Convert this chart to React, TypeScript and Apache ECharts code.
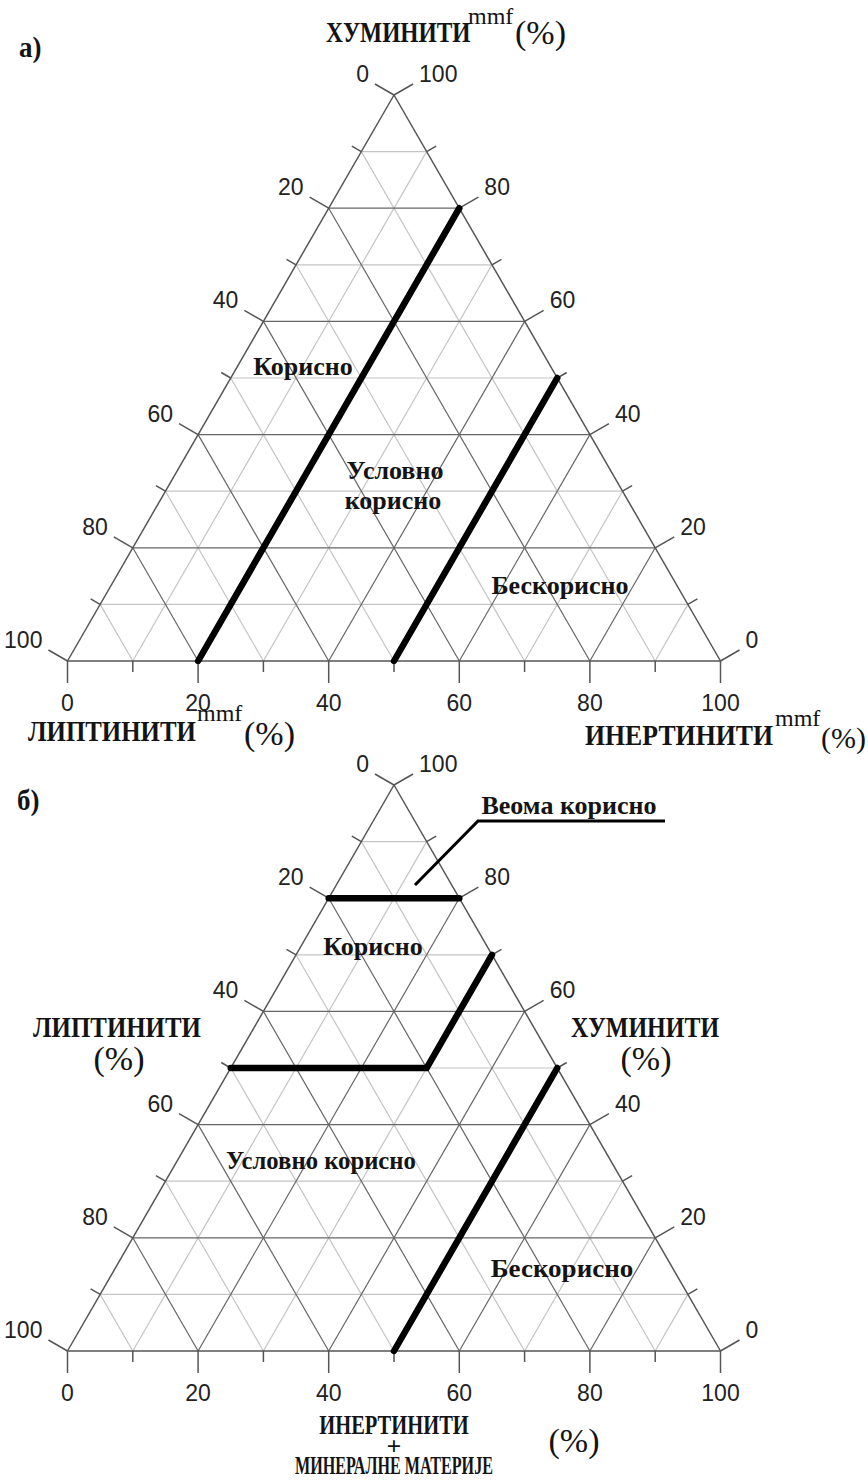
import React, { useEffect, useRef } from "react";
import * as echarts from "echarts";

// Ternary points are written as [left-axis %, right-axis %, bottom-axis %]
type TPoint = [number, number, number];

const TICK_VALUES = [0, 10, 20, 30, 40, 50, 60, 70, 80, 90, 100];
const MAJOR_LEVELS = [20, 40, 60, 80];
const MINOR_LEVELS = [10, 30, 50, 70, 90];

// Panel а) class boundaries
const A_USEFUL_LIMIT: TPoint[] = [[80, 0, 20], [0, 80, 20]];
const A_USELESS_LIMIT: TPoint[] = [[50, 0, 50], [0, 50, 50]];

// Panel б) class boundaries
const B_VERY_USEFUL_LIMIT: TPoint[] = [[20, 80, 0], [0, 80, 20]];
const B_USEFUL_LIMIT: TPoint[] = [[50, 50, 0], [20, 50, 30], [0, 70, 30]];
const B_USELESS_LIMIT: TPoint[] = [[50, 0, 50], [0, 50, 50]];

const TRIANGLE_EDGES: TPoint[][] = [
  [[100, 0, 0], [0, 100, 0]],
  [[0, 100, 0], [0, 0, 100]],
  [[0, 0, 100], [100, 0, 0]],
];

// cartesian position inside the triangle: x = bottom + right/2, y = right
const toXY = (p: TPoint): [number, number] => [p[2] + p[1] / 2, p[1]];

function gridSegments(levels: number[]) {
  const segs: number[][] = [];
  levels.forEach((v) => {
    const lines: TPoint[][] = [
      [[100 - v, v, 0], [0, v, 100 - v]],
      [[100 - v, 0, v], [0, 100 - v, v]],
      [[v, 100 - v, 0], [v, 0, 100 - v]],
    ];
    lines.forEach(([a, b]) => {
      const p = toXY(a);
      const q = toXY(b);
      segs.push([p[0], p[1], q[0], q[1]]);
    });
  });
  return segs;
}

function edgeSegments() {
  return TRIANGLE_EDGES.map(([a, b]) => {
    const p = toXY(a);
    const q = toXY(b);
    return [p[0], p[1], q[0], q[1]];
  });
}

// axis 0: left, 1: right, 2: bottom
function tickData() {
  const out: number[][] = [];
  TICK_VALUES.forEach((v) => {
    const l = toXY([v, 100 - v, 0]);
    const r = toXY([0, v, 100 - v]);
    const b = toXY([100 - v, 0, v]);
    out.push([l[0], l[1], 0, v]);
    out.push([r[0], r[1], 1, v]);
    out.push([b[0], b[1], 2, v]);
  });
  return out;
}

const EDGE_COLOR = "#555555";
const MAJOR_COLOR = "#666666";
const MINOR_COLOR = "#c4c4c4";
const TEXT_COLOR = "#141414";
const TICK_FONT = '23px "Liberation Sans", Arial, sans-serif';

function segmentSeries(gi: number, data: number[][], color: string, width: number, z: number) {
  return {
    type: "custom",
    coordinateSystem: "cartesian2d",
    xAxisIndex: gi,
    yAxisIndex: gi,
    silent: true,
    clip: false,
    z,
    data,
    renderItem: (_p: any, api: any) => {
      const a = api.coord([api.value(0), api.value(1)]);
      const b = api.coord([api.value(2), api.value(3)]);
      return {
        type: "line",
        shape: { x1: a[0], y1: a[1], x2: b[0], y2: b[1] },
        style: { stroke: color, lineWidth: width },
      };
    },
  };
}

function tickSeries(gi: number) {
  return {
    type: "custom",
    coordinateSystem: "cartesian2d",
    xAxisIndex: gi,
    yAxisIndex: gi,
    silent: true,
    clip: false,
    z: 5,
    data: tickData(),
    renderItem: (_p: any, api: any) => {
      const p = api.coord([api.value(0), api.value(1)]);
      const axis = api.value(2);
      const v = api.value(3);
      const dir = axis === 0 ? [-0.866, -0.5] : axis === 1 ? [0.866, -0.5] : [0, 1];
      const major = v % 20 === 0;
      const len = major ? 22 : 11;
      const e = [p[0] + dir[0] * len, p[1] + dir[1] * len];
      const children: any[] = [
        {
          type: "line",
          shape: { x1: p[0], y1: p[1], x2: e[0], y2: e[1] },
          style: { stroke: EDGE_COLOR, lineWidth: 1.5 },
        },
      ];
      if (major) {
        let tx = e[0];
        let ty = e[1] + 20;
        let align = "center";
        if (axis === 0) {
          tx = e[0] - 6;
          ty = e[1] - 10;
          align = "right";
        } else if (axis === 1) {
          tx = e[0] + 6;
          ty = e[1] - 10;
          align = "left";
        }
        children.push({
          type: "text",
          style: {
            text: String(v),
            x: tx,
            y: ty,
            textAlign: align,
            textVerticalAlign: "middle",
            fill: "#222222",
            font: TICK_FONT,
          },
        });
      }
      return { type: "group", children };
    },
  };
}

function boundarySeries(gi: number, pts: TPoint[]) {
  return {
    type: "line",
    xAxisIndex: gi,
    yAxisIndex: gi,
    silent: true,
    symbol: "none",
    z: 10,
    data: pts.map(toXY),
    lineStyle: { color: "#000000", width: 6.5, cap: "round", join: "miter" },
  };
}

const serif = '"Liberation Serif", "Times New Roman", serif';
const TITLE_FONT = `bold 30px ${serif}`;
const PANEL_FONT = `bold 30px ${serif}`;
const SUP_FONT = `24px ${serif}`;
const PCT_FONT = `34px ${serif}`;
const REGION_FONT = `bold 26px ${serif}`;

function txt(text: string, x: number, y: number, font: string, align = "center", sx = 1) {
  return {
    type: "text",
    x,
    y,
    scaleX: sx,
    z: 100,
    silent: true,
    style: {
      text,
      x: 0,
      y: 0,
      font,
      fill: TEXT_COLOR,
      textAlign: align,
      textVerticalAlign: "middle",
    },
  };
}

export default function App() {
  const ref = useRef<HTMLDivElement>(null);

  useEffect(() => {
    document.body.style.margin = "0";
    const chart = echarts.init(ref.current!, undefined, { renderer: "svg" });
    const grids = [
      { left: 67.5, top: 95, width: 653, height: 566 },
      { left: 67.5, top: 785, width: 653, height: 566 },
    ];
    const axes = (gi: number) => ({ type: "value", gridIndex: gi, min: 0, max: 100, show: false });

    const series: any[] = [];
    [0, 1].forEach((gi) => {
      series.push(segmentSeries(gi, gridSegments(MINOR_LEVELS), MINOR_COLOR, 1.2, 1));
      series.push(segmentSeries(gi, gridSegments(MAJOR_LEVELS), MAJOR_COLOR, 1.2, 2));
      series.push(segmentSeries(gi, edgeSegments(), EDGE_COLOR, 1.5, 3));
      series.push(tickSeries(gi));
    });
    series.push(boundarySeries(0, A_USEFUL_LIMIT));
    series.push(boundarySeries(0, A_USELESS_LIMIT));
    series.push(boundarySeries(1, B_VERY_USEFUL_LIMIT));
    series.push(boundarySeries(1, B_USEFUL_LIMIT));
    series.push(boundarySeries(1, B_USELESS_LIMIT));

    const graphic: any[] = [
      // panel а)
      txt("а)", 19, 47, PANEL_FONT, "left", 0.9),
      txt("ХУМИНИТИ", 326, 32, TITLE_FONT, "left", 0.78),
      txt("mmf", 468, 16, SUP_FONT, "left"),
      txt("(%)", 515, 32, PCT_FONT, "left"),
      txt("ЛИПТИНИТИ", 28, 731, TITLE_FONT, "left", 0.83),
      txt("mmf", 197, 713, SUP_FONT, "left"),
      txt("(%)", 244, 733, PCT_FONT, "left"),
      txt("ИНЕРТИНИТИ", 585, 735, TITLE_FONT, "left", 0.86),
      txt("mmf", 775, 718, SUP_FONT, "left"),
      txt("(%)", 821, 737, `30px ${serif}`, "left"),
      txt("Корисно", 303, 366, REGION_FONT),
      txt("Условно", 395, 470, REGION_FONT),
      txt("корисно", 393, 500, REGION_FONT),
      txt("Бескорисно", 560, 585, REGION_FONT),
      // panel б)
      txt("б)", 17, 800, PANEL_FONT, "left", 0.9),
      txt("Веома корисно", 569, 805, REGION_FONT),
      {
        type: "polyline",
        z: 100,
        silent: true,
        shape: { points: [[415, 885], [478, 821], [665, 821]] },
        style: { stroke: "#000000", lineWidth: 3, fill: null },
      },
      txt("Корисно", 373, 946, REGION_FONT),
      txt("ЛИПТИНИТИ", 117, 1027, TITLE_FONT, "center", 0.83),
      txt("(%)", 119, 1058, PCT_FONT),
      txt("ХУМИНИТИ", 645, 1027, TITLE_FONT, "center", 0.8),
      txt("(%)", 646, 1058, PCT_FONT),
      txt("Условно корисно", 321, 1160, REGION_FONT, "center", 0.95),
      txt("Бескорисно", 562, 1268, REGION_FONT, "center", 1.04),
      txt("ИНЕРТИНИТИ", 394, 1425, `bold 27px ${serif}`, "center", 0.76),
      txt("+", 394, 1446, `bold 26px ${serif}`),
      txt("МИНЕРАЛНЕ МАТЕРИЈЕ", 394, 1466, `bold 26px ${serif}`, "center", 0.62),
      txt("(%)", 574, 1440, PCT_FONT),
    ];

    chart.setOption({
      animation: false,
      backgroundColor: "#ffffff",
      grid: grids,
      xAxis: [axes(0), axes(1)],
      yAxis: [axes(0), axes(1)],
      series,
      graphic,
    });
    return () => chart.dispose();
  }, []);

  return (
    <div
      ref={ref}
      style={{ position: "absolute", left: 0, top: 0, width: 868, height: 1481, background: "#fff" }}
    />
  );
}
